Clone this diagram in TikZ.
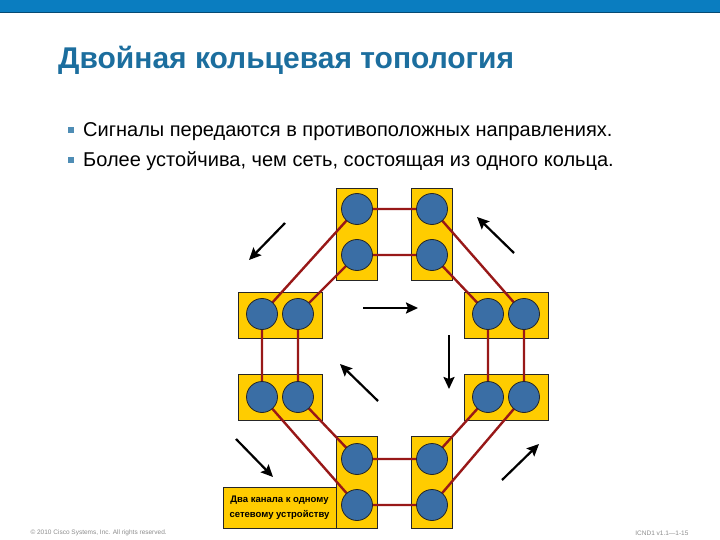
\documentclass[tikz,border=0pt]{standalone}
\usepackage{fontspec}
\setmainfont{Liberation Sans}
\usetikzlibrary{arrows.meta}

\definecolor{barblue}{HTML}{0A7DC0}
\definecolor{titleblue}{HTML}{1C6E9E}
\definecolor{devyellow}{HTML}{FFCC00}
\definecolor{portblue}{HTML}{3A6EA5}
\definecolor{wirered}{HTML}{981818}
\definecolor{bulletblue}{HTML}{4F8DB5}

\tikzset{
  vdev/.style={draw=black!85,fill=devyellow,line width=0.8pt,inner sep=0pt,
    minimum width=41pt,minimum height=92pt},
  hdev/.style={draw=black!85,fill=devyellow,line width=0.8pt,inner sep=0pt,
    minimum width=84pt,minimum height=46pt},
  port/.style={circle,draw=black!85,fill=portblue,line width=0.8pt,
    inner sep=0pt,minimum size=31pt},
  wire/.style={wirered,line width=2.4pt},
  flow/.style={line width=2.2pt,-{Stealth[length=12pt,width=11pt,inset=2pt]}},
  bullet/.style={fill=bulletblue,inner sep=0pt,minimum size=6pt},
  txt/.style={anchor=base west,inner sep=0pt,font=\fontsize{20}{24}\selectfont},
}

\begin{document}
\begin{tikzpicture}[x=1pt,y=-1pt]

\useasboundingbox (0,0) rectangle (720,540);

% ---------- header ----------
\fill[barblue] (0,0) rectangle (720,12);
\draw[barblue!60!black,line width=1pt] (0,12.5) -- (720,12.5);
\node[anchor=base west,inner sep=0pt,text=titleblue,
  font=\bfseries\fontsize{30}{35}\selectfont]
  (title) at (58,69) {Двойная кольцевая топология};

% bullets
\node[bullet] (m1) at (71,130) {};
\node[txt] (b1) at (83,137) {Сигналы передаются в противоположных направлениях.};
\node[bullet] (m2) at (71,160) {};
\node[txt] (b2) at (83,167) {Более устойчива, чем сеть, состоящая из одного кольца.};

% ---------- devices ----------
\node[vdev] (topL) at (356.5,234) {};
\node[vdev] (topR) at (432,234) {};
\node[hdev] (midL) at (280,315) {};
\node[hdev] (midR) at (506,315) {};
\node[hdev] (lowL) at (280,397) {};
\node[hdev] (lowR) at (506,397) {};
\node[vdev] (botL) at (356.5,482) {};
\node[vdev] (botR) at (432,482) {};
\node[draw=black!85,fill=devyellow,line width=0.8pt,inner sep=0pt,
  minimum width=113pt,minimum height=41pt,align=center,
  font=\bfseries\fontsize{9.5}{15}\selectfont] (note) at (279.5,507.5)
  {Два канала к одному\\сетевому устройству};

% port positions
\coordinate (A1) at (357,209);  \coordinate (A2) at (357,255);
\coordinate (B1) at (432,209);  \coordinate (B2) at (432,255);
\coordinate (L1) at (262,314);  \coordinate (L2) at (298,314);
\coordinate (R1) at (488,314);  \coordinate (R2) at (524,314);
\coordinate (LL1) at (262,397); \coordinate (LL2) at (298,397);
\coordinate (LR1) at (488,397); \coordinate (LR2) at (524,397);
\coordinate (C1) at (357,459);  \coordinate (C2) at (357,505);
\coordinate (D1) at (432,459);  \coordinate (D2) at (432,505);

% ---------- rings ----------
% outer ring
\draw[wire] (A1) -- (B1) -- (R2) -- (LR2) -- (D2) -- (C2) -- (LL1) -- (L1) -- cycle;
% inner ring
\draw[wire] (A2) -- (B2) -- (R1) -- (LR1) -- (D1) -- (C1) -- (LL2) -- (L2) -- cycle;

\foreach \p in {A1,A2,B1,B2,L1,L2,R1,R2,LL1,LL2,LR1,LR2,C1,C2,D1,D2}
  \node[port] (p\p) at (\p) {};

% ---------- signal directions ----------
\coordinate (f1s) at (285,223); \coordinate (f1e) at (249,260);
\coordinate (f2s) at (514,253); \coordinate (f2e) at (477,217);
\coordinate (f3s) at (363,308); \coordinate (f3e) at (418,308);
\coordinate (f4s) at (449,335); \coordinate (f4e) at (449,389);
\coordinate (f5s) at (378,401); \coordinate (f5e) at (340,364);
\coordinate (f6s) at (236,439); \coordinate (f6e) at (273,477);
\coordinate (f7s) at (502,480); \coordinate (f7e) at (539,444);
\foreach \i in {1,...,7}
  \draw[flow] (f\i s) -- (f\i e);

% ---------- footer ----------
\node[anchor=west,text=black!45,font=\fontsize{6.5}{8}\selectfont] (copy) at (27,533)
  {© 2010 Cisco Systems, Inc. All rights reserved.};
\node[anchor=east,text=black!45,font=\fontsize{6.5}{8}\selectfont] (page) at (692,533)
  {ICND1 v1.1—1-15};

\end{tikzpicture}
\end{document}
